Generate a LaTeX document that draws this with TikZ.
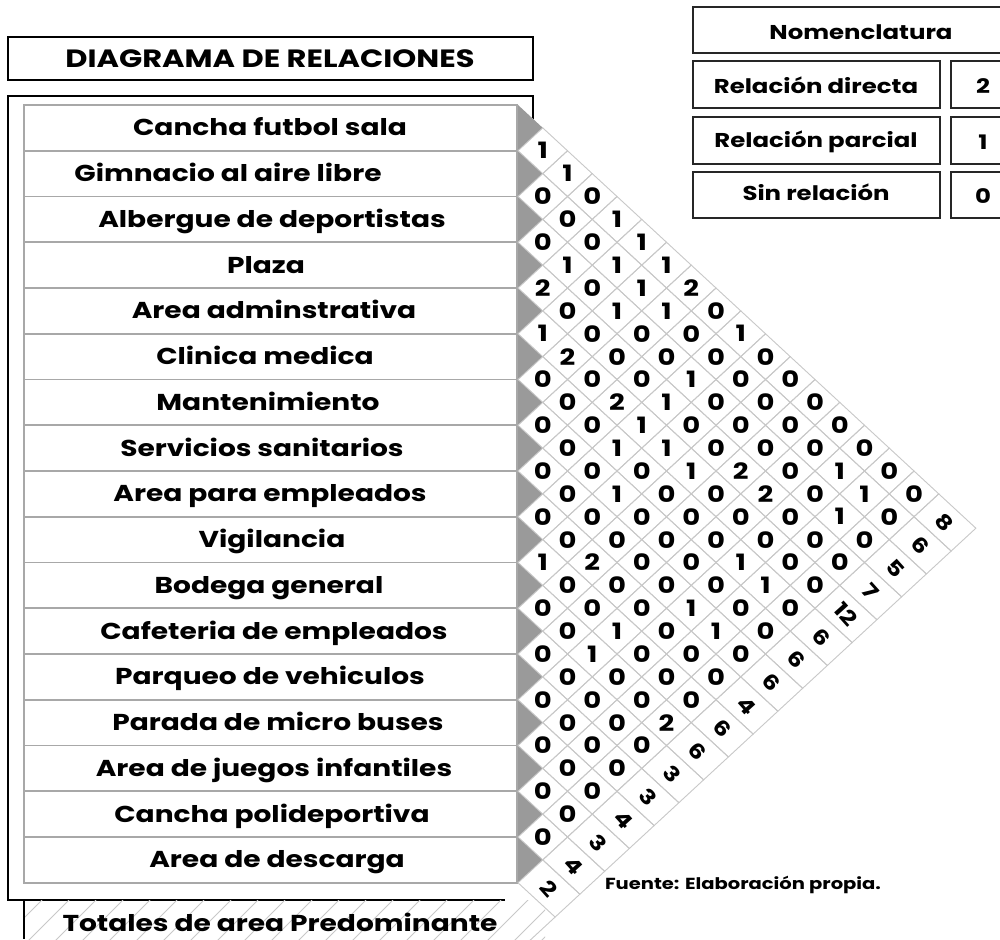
\documentclass[tikz,border=0pt]{standalone}
\usepackage{fontspec}
\setmainfont{Poppins}[FakeStretch=1.22]
\definecolor{gridc}{HTML}{C8C8C8}
\definecolor{boxc}{HTML}{A8A8A8}
\definecolor{trig}{HTML}{9A9A9A}
\begin{document}
\begin{tikzpicture}[x=1pt,y=-1pt,
  rowbox/.style={draw=boxc,line width=1.6pt,fill=white},
  lbl/.style={font=\fontsize{23}{26}\selectfont\bfseries,anchor=base,inner sep=0pt},
  cell/.style={draw=gridc,line width=0.9pt},
  num/.style={font=\fontsize{22.5}{24}\selectfont\bfseries,inner sep=0pt},
  tot/.style={font=\fontsize{20.5}{22}\selectfont\bfseries,inner sep=0pt,rotate=-48},
  frame/.style={draw=black,line width=2.2pt},
  legbox/.style={draw=black!85,line width=2pt,fill=white},
  legtxt/.style={font=\fontsize{20}{22}\selectfont\bfseries,anchor=base,inner sep=0pt}]
\useasboundingbox (0,0) rectangle (1000,939);
\fill[white] (0,0) rectangle (1000,939);

% title
\draw[frame] (8,37) rectangle (533,80);
\node[font=\fontsize{25}{28}\selectfont\bfseries,anchor=base,inner sep=0pt] (title) at (270,68) {DIAGRAMA DE RELACIONES};

% outer frame
\draw[frame] (505,900) -- (8,900) -- (8,96) -- (533,96) -- (533,130);

% hatched totals label
\begin{scope}
  \clip (24,900) rectangle (545,939);
  \foreach \k in {0,...,24} \draw[gridc,line width=0.8pt] ({\k*27-30},945) -- ++(60,-60);
\end{scope}
\draw[black,line width=2pt] (24,900) -- (24,939);
\node[lbl] (totlbl) at (280,931) {Totales de area Predominante};

% row label boxes
\foreach \lab/\cx [count=\i] in {Cancha futbol sala/270,Gimnacio al aire libre/228,Albergue de deportistas/272,Plaza/266,Area adminstrativa/274,Clinica medica/265,Mantenimiento/268,Servicios sanitarios/262,Area para empleados/270,Vigilancia/272,Bodega general/269,Cafeteria de empleados/274,Parqueo de vehiculos/270,Parada de micro buses/278,Area de juegos infantiles/274,Cancha polideportiva/272,Area de descarga/277}{
  \draw[rowbox] (24,{105+(\i-1)*45.75}) rectangle (517,{105+\i*45.75});
  \node[lbl] (row\i) at (\cx,{105+(\i-0.5)*45.75+8}) {\lab};
}

% matrix
\begin{scope}[shift={(518pt,-105pt)},x={(24.75pt,-22.875pt)},y={(24.75pt,22.875pt)}]
  \fill[white] (0,0) -- (18.5,0) -- (18.5,-17) -- (17,-17) -- cycle;
  \foreach \i in {1,...,17}{
    \fill[trig] (\i-1,-\i+1) -- (\i,-\i+1) -- (\i,-\i) -- cycle;
  }
  \foreach \i/\vals in {1/{1,1,0,1,1,1,2,0,1,0,0,0,0,0,0,0},
                        2/{0,0,0,1,1,1,0,0,0,0,0,0,1,1,0},
                        3/{0,1,0,1,0,0,1,0,0,0,0,0,1,0},
                        4/{2,0,0,0,0,1,0,0,2,2,0,0,0},
                        5/{1,2,0,2,1,1,1,0,0,0,0,0},
                        6/{0,0,0,1,0,0,0,0,1,1,0},
                        7/{0,0,0,1,0,0,0,0,0,0},
                        8/{0,0,0,0,0,0,1,1,0},
                        9/{0,0,2,0,0,0,0,0},
                        10/{1,0,0,1,0,0,0},
                        11/{0,0,1,0,0,2},
                        12/{0,0,0,0,0},
                        13/{0,0,0,0},
                        14/{0,0,0},
                        15/{0,0},
                        16/{0}}{
    \foreach \v [count=\k] in \vals {
      \pgfmathtruncatemacro{\j}{\i+\k}
      \draw[cell] (\j-1,-\i+1) -- (\j,-\i+1) -- (\j,-\i) -- (\j-1,-\i) -- cycle;
      \node[num] (c\i-\j) at (\j-0.5,-\i+0.5) {\v};
    }
  }
  % totals band
  \foreach \t [count=\i] in {8,6,5,7,12,6,6,6,4,6,6,3,3,4,3,4,2}{
    \draw[cell] (17,-\i+1) -- (18.5,-\i+1) -- (18.5,-\i) -- (17,-\i) -- cycle;
    \node[tot] (t\i) at (17.75,-\i+0.5) {\t};
  }
  \coordinate (bandend) at (18.5,-19.5);
  \coordinate (bandstart) at (18.5,-17);
  \draw[cell] (bandstart) -- (bandend);
\end{scope}

% legend
\draw[legbox] (693,7) rectangle (1030,53);
\node[legtxt] (nom) at (861,40) {Nomenclatura};
\draw[legbox] (693,61) rectangle (940,108);
\node[legtxt] (rd) at (816,94) {Relación directa};
\draw[legbox] (951,61) rectangle (1015,108);
\node[legtxt] (v2) at (983,94) {2};
\draw[legbox] (693,117) rectangle (940,164);
\node[legtxt] (rp) at (816,147) {Relación parcial};
\draw[legbox] (951,117) rectangle (1015,164);
\node[legtxt] (v1) at (983,149) {1};
\draw[legbox] (693,172) rectangle (940,218);
\node[legtxt] (sr) at (816,200) {Sin relación};
\draw[legbox] (951,172) rectangle (1015,218);
\node[legtxt] (v0) at (983,203) {0};

% source
\node[font=\fontsize{16}{18}\selectfont\bfseries,anchor=base,inner sep=0pt] (src) at (743,889) {Fuente: Elaboración propia.};
\end{tikzpicture}
\end{document}
